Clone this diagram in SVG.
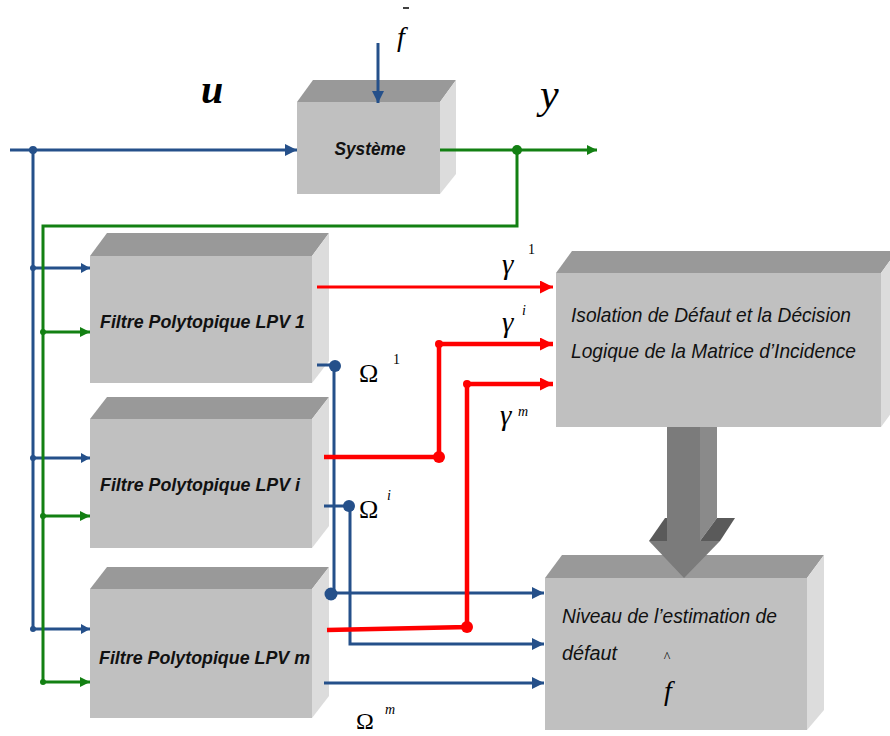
<svg xmlns="http://www.w3.org/2000/svg" width="890" height="736" viewBox="0 0 890 736">
<style>
.front{fill:#c0c0c0}
.top{fill:#999999}
.side{fill:#dcdcdc}
.lbl{font-family:"Liberation Sans",Arial,sans-serif;font-style:italic;fill:#111}
.bold{font-weight:bold}
.math{font-family:"Liberation Serif","Times New Roman",serif;font-style:italic;fill:#000}
.sym{font-family:"Liberation Serif","Times New Roman",serif;fill:#000}
.b{stroke:#25508a;stroke-width:3;fill:none}
.g{stroke:#138013;stroke-width:3;fill:none}
.r{stroke:#ff0000;stroke-width:3;fill:none}
.r4{stroke:#ff0000;stroke-width:4.5;fill:none}
</style>
<defs>
<marker id="ab" markerWidth="12" markerHeight="12" refX="12" refY="6" orient="auto" markerUnits="userSpaceOnUse"><path d="M0,0 L12,6 L0,12 z" fill="#25508a"/></marker>
<marker id="abs" markerWidth="9" markerHeight="10" refX="9" refY="5" orient="auto" markerUnits="userSpaceOnUse"><path d="M0,0 L9,5 L0,10 z" fill="#25508a"/></marker>
<marker id="ag" markerWidth="10" markerHeight="10" refX="10" refY="5" orient="auto" markerUnits="userSpaceOnUse"><path d="M0,0 L10,5 L0,10 z" fill="#138013"/></marker>
<marker id="ar" markerWidth="13" markerHeight="13" refX="13" refY="6.5" orient="auto" markerUnits="userSpaceOnUse"><path d="M0,0 L13,6.5 L0,13 z" fill="#ff0000"/></marker>
</defs>

<g id="systeme">
<rect class="front" x="297" y="102" width="143" height="92"/>
<polygon class="top" points="297,102 313,80 456,80 440,102"/>
<polygon class="side" points="440,102 456,80 456,174 440,194"/>
<text class="lbl bold" x="370" y="155" font-size="19" text-anchor="middle" textLength="71" lengthAdjust="spacingAndGlyphs">Système</text>
</g>

<g id="filtre1">
<rect class="front" x="90" y="256" width="222" height="127"/>
<polygon class="top" points="90,256 107,233 329,233 312,256"/>
<polygon class="side" points="312,256 329,233 329,361 312,383"/>
<text class="lbl bold" x="100" y="328" font-size="19" textLength="205" lengthAdjust="spacingAndGlyphs">Filtre Polytopique  LPV 1</text>
</g>

<g id="filtrei">
<rect class="front" x="90" y="419" width="222" height="129"/>
<polygon class="top" points="90,419 107,397 329,397 312,419"/>
<polygon class="side" points="312,419 329,397 329,526 312,548"/>
<text class="lbl bold" x="100" y="491" font-size="19" textLength="200" lengthAdjust="spacingAndGlyphs">Filtre Polytopique  LPV i</text>
</g>

<g id="filtrem">
<rect class="front" x="90" y="589" width="222" height="129"/>
<polygon class="top" points="90,589 107,567 329,567 312,589"/>
<polygon class="side" points="312,589 329,567 329,696 312,718"/>
<text class="lbl bold" x="99" y="664" font-size="19" textLength="211" lengthAdjust="spacingAndGlyphs">Filtre Polytopique  LPV m</text>
</g>

<g id="isolation">
<rect class="front" x="556" y="273" width="325" height="154"/>
<polygon class="top" points="556,273 572,251 897,251 881,273"/>
<polygon class="side" points="881,273 897,251 897,405 881,427"/>
<text class="lbl" x="571" y="322" font-size="21" textLength="280" lengthAdjust="spacingAndGlyphs">Isolation de Défaut et la Décision</text>
<text class="lbl" x="571" y="358" font-size="21" textLength="285" lengthAdjust="spacingAndGlyphs">Logique de la Matrice d’Incidence</text>
</g>

<g id="niveau">
<rect class="front" x="545" y="578" width="262" height="152"/>
<polygon class="top" points="545,578 562,555 824,555 807,578"/>
<polygon class="side" points="807,578 824,555 824,710 807,730"/>
<text class="lbl" x="562" y="623" font-size="20" textLength="215" lengthAdjust="spacingAndGlyphs">Niveau de l’estimation de</text>
<text class="lbl" x="562" y="660" font-size="20" textLength="55" lengthAdjust="spacingAndGlyphs">défaut</text>
<text class="sym" x="667" y="662" font-size="14" text-anchor="middle">^</text>
<text class="math" x="668" y="700" font-size="28" text-anchor="middle">f</text>
</g>

<g id="fleche-decision">
<rect x="667" y="427" width="33" height="114" fill="#7b7b7b"/>
<polygon points="700,427 717,427 717,518 700,541" fill="#8a8a8a"/>
<polygon points="649,541 665,518 667,518 667,541" fill="#5a5a5a"/>
<polygon points="700,541 717,518 735,518 720,541" fill="#5a5a5a"/>
<polygon points="649,541 684,578 720,541" fill="#7b7b7b"/>
</g>

<g id="connecteurs">
<path class="b" d="M10,150 H297" marker-end="url(#ab)"/>
<path class="b" d="M378,43 V103" marker-end="url(#ab)"/>
<path class="b" d="M33,150 V630"/>
<path class="b" d="M33,268 H90" marker-end="url(#abs)"/>
<path class="b" d="M33,458 H90" marker-end="url(#abs)"/>
<path class="b" d="M33,629 H90" marker-end="url(#abs)"/>
<path class="b" d="M317,365 H334 V593"/>
<path class="b" d="M330,593 H544" marker-end="url(#ab)"/>
<path class="b" d="M324,506 H350 V644 H544" marker-end="url(#ab)"/>
<path class="b" d="M324,683 H544" marker-end="url(#ab)"/>
<circle cx="33" cy="150" r="4" fill="#25508a"/>
<circle cx="33" cy="268" r="3" fill="#25508a"/>
<circle cx="33" cy="458" r="3" fill="#25508a"/>
<circle cx="33" cy="629" r="3" fill="#25508a"/>
<circle cx="335" cy="366" r="6" fill="#25508a"/>
<circle cx="349" cy="506" r="6" fill="#25508a"/>
<circle cx="331" cy="594" r="6.5" fill="#25508a"/>
<path class="g" d="M440,150 H597" marker-end="url(#ag)"/>
<path class="g" d="M517,150 V226 H43 V682"/>
<path class="g" d="M43,332 H90" marker-end="url(#ag)"/>
<path class="g" d="M43,516 H90" marker-end="url(#ag)"/>
<path class="g" d="M43,682 H90" marker-end="url(#ag)"/>
<circle cx="517" cy="150" r="5" fill="#138013"/>
<circle cx="43" cy="332" r="3" fill="#138013"/>
<circle cx="43" cy="516" r="3" fill="#138013"/>
<circle cx="43" cy="682" r="3" fill="#138013"/>
<path class="r" d="M317,287 H553" marker-end="url(#ar)"/>
<path class="r4" d="M324,457 H439 V344 H553" marker-end="url(#ar)"/>
<path class="r4" d="M327,630 L467,627 V384 H553" marker-end="url(#ar)"/>
<circle cx="439" cy="457" r="6" fill="#ff0000"/>
<circle cx="467" cy="627" r="6" fill="#ff0000"/>
<circle cx="439" cy="344" r="4" fill="#ff0000"/>
<circle cx="467" cy="384" r="4" fill="#ff0000"/>
</g>

<g id="labels">
<text class="math" x="201" y="103" font-size="40" font-weight="bold">u</text>
<text class="math" x="540" y="108" font-size="42">y</text>
<text class="math" x="397" y="46" font-size="28">f</text>
<line x1="403" y1="8" x2="409" y2="8" stroke="#000" stroke-width="1.5"/>
<text class="math" x="502" y="274" font-size="29">γ</text>
<text class="sym" x="528" y="254" font-size="14">1</text>
<text class="math" x="502" y="332" font-size="29">γ</text>
<text class="math" x="522" y="315" font-size="14">i</text>
<text class="math" x="500" y="425" font-size="29">γ</text>
<text class="math" x="518" y="416" font-size="14">m</text>
<text class="sym" x="359" y="382" font-size="26">Ω</text>
<text class="sym" x="393" y="364" font-size="14">1</text>
<text class="sym" x="359" y="518" font-size="26">Ω</text>
<text class="math" x="387" y="500" font-size="14">i</text>
<text class="sym" x="356" y="729" font-size="24">Ω</text>
<text class="math" x="385" y="714" font-size="14">m</text>
</g>
</svg>
